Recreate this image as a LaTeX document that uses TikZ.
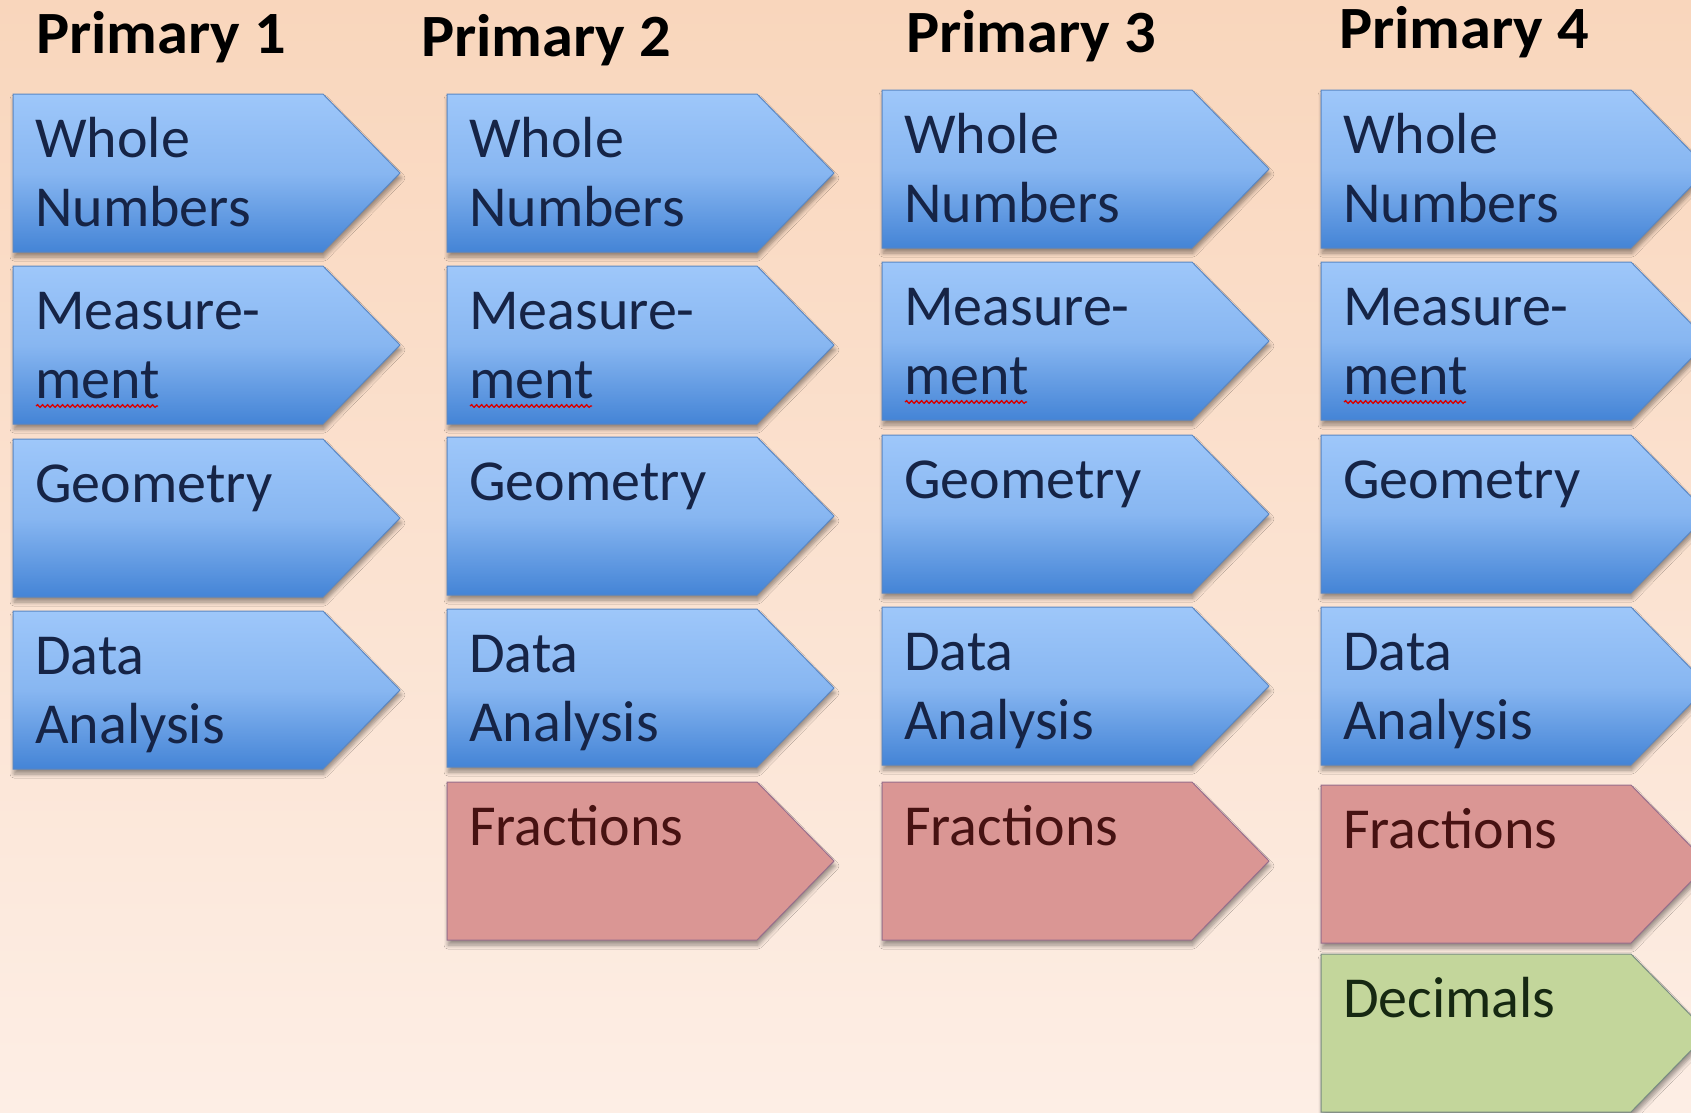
\documentclass[tikz,border=0pt]{standalone}
\usepackage{fontspec}
\setmainfont{Carlito}
\usetikzlibrary{shadows,shadows.blur,decorations.pathmorphing}
\definecolor{bgtop}{RGB}{249,214,188}
\definecolor{bgbot}{RGB}{253,238,229}
\definecolor{bluetop}{RGB}{158,199,250}
\definecolor{bluebot}{RGB}{68,132,214}
\definecolor{blueline}{RGB}{90,135,195}
\definecolor{redfill}{RGB}{218,150,148}
\definecolor{redline}{RGB}{150,110,140}
\definecolor{greenfill}{RGB}{195,214,155}
\definecolor{greenline}{RGB}{120,140,130}
\definecolor{navytext}{RGB}{22,36,70}
\definecolor{redtext}{RGB}{70,18,18}
\definecolor{greentext}{RGB}{22,40,18}
\tikzset{
  shapebase/.style={line width=1pt, blur shadow={shadow xshift=1pt, shadow yshift=-5pt, shadow blur steps=6, shadow blur radius=4pt, shadow opacity=40}},
  bluetab/.style={shapebase, draw=blueline, top color=bluetop, bottom color=bluebot, middle color=bluetop!75!bluebot},
  redtab/.style={shapebase, draw=redline, fill=redfill},
  greentab/.style={shapebase, draw=greenline, fill=greenfill},
  boxtext/.style={inner sep=0pt, anchor=base west, font=\fontsize{58}{69}\selectfont},
  title/.style={inner sep=0pt, anchor=base west, font=\bfseries\fontsize{60}{62}\selectfont, text=black},
  squiggle/.style={draw=red!85!black, line width=1.3pt, decorate, decoration={snake, amplitude=1.3pt, segment length=5pt}}
}
\newcommand{\tabshape}[6]{% name, x, y, style, text colour, text
  \path[#4] (#2,#3) -- ++(310,0) -- ++(77,79) -- ++(-77,79) -- ++(-310,0) -- cycle;
  \node[boxtext, text=#5] (#1) at (#2+22,#3+63) {\parbox[t]{300pt}{\raggedright #6}};
}
\newcommand{\ttl}[1]{\scalebox{1.04}[1]{#1}}
\begin{document}
\begin{tikzpicture}[x=1pt,y=-1pt]
\useasboundingbox (0,0) rectangle (1691,1112);
\clip (0,0) rectangle (1691,1112);
\shade[top color=bgtop, bottom color=bgbot] (0,0) rectangle (1691,1112);
% titles
\node[title] (t1) at (36,53) {\ttl{Primary 1}};
\node[title] (t2) at (421,56) {\ttl{Primary 2}};
\node[title] (t3) at (906,52) {\ttl{Primary 3}};
\node[title] (t4) at (1339,48) {\ttl{Primary 4}};
% column 1
\tabshape{a1}{13}{94}{bluetab}{navytext}{Whole\\Numbers}
\tabshape{a2}{13}{266}{bluetab}{navytext}{Measure-\\ment}
\tabshape{a3}{13}{439}{bluetab}{navytext}{Geometry}
\tabshape{a4}{13}{611}{bluetab}{navytext}{Data\\Analysis}
% column 2
\tabshape{b1}{447}{94}{bluetab}{navytext}{Whole\\Numbers}
\tabshape{b2}{447}{266}{bluetab}{navytext}{Measure-\\ment}
\tabshape{b3}{447}{437}{bluetab}{navytext}{Geometry}
\tabshape{b4}{447}{609}{bluetab}{navytext}{Data\\Analysis}
\tabshape{b5}{447}{782}{redtab}{redtext}{Fractions}
% column 3
\tabshape{c1}{882}{90}{bluetab}{navytext}{Whole\\Numbers}
\tabshape{c2}{882}{262}{bluetab}{navytext}{Measure-\\ment}
\tabshape{c3}{882}{435}{bluetab}{navytext}{Geometry}
\tabshape{c4}{882}{607}{bluetab}{navytext}{Data\\Analysis}
\tabshape{c5}{882}{782}{redtab}{redtext}{Fractions}
% column 4
\tabshape{d1}{1321}{90}{bluetab}{navytext}{Whole\\Numbers}
\tabshape{d2}{1321}{262}{bluetab}{navytext}{Measure-\\ment}
\tabshape{d3}{1321}{435}{bluetab}{navytext}{Geometry}
\tabshape{d4}{1321}{607}{bluetab}{navytext}{Data\\Analysis}
\tabshape{d5}{1321}{785}{redtab}{redtext}{Fractions}
\tabshape{d6}{1321}{954}{greentab}{greentext}{Decimals}
% spell-check squiggles under "ment"
\foreach \n/\x/\y in {a2/36/406, b2/470/406, c2/905/402, d2/1344/402}{
  \draw[squiggle] (\x,\y) -- (\x+122,\y);
}
\end{tikzpicture}
\end{document}
